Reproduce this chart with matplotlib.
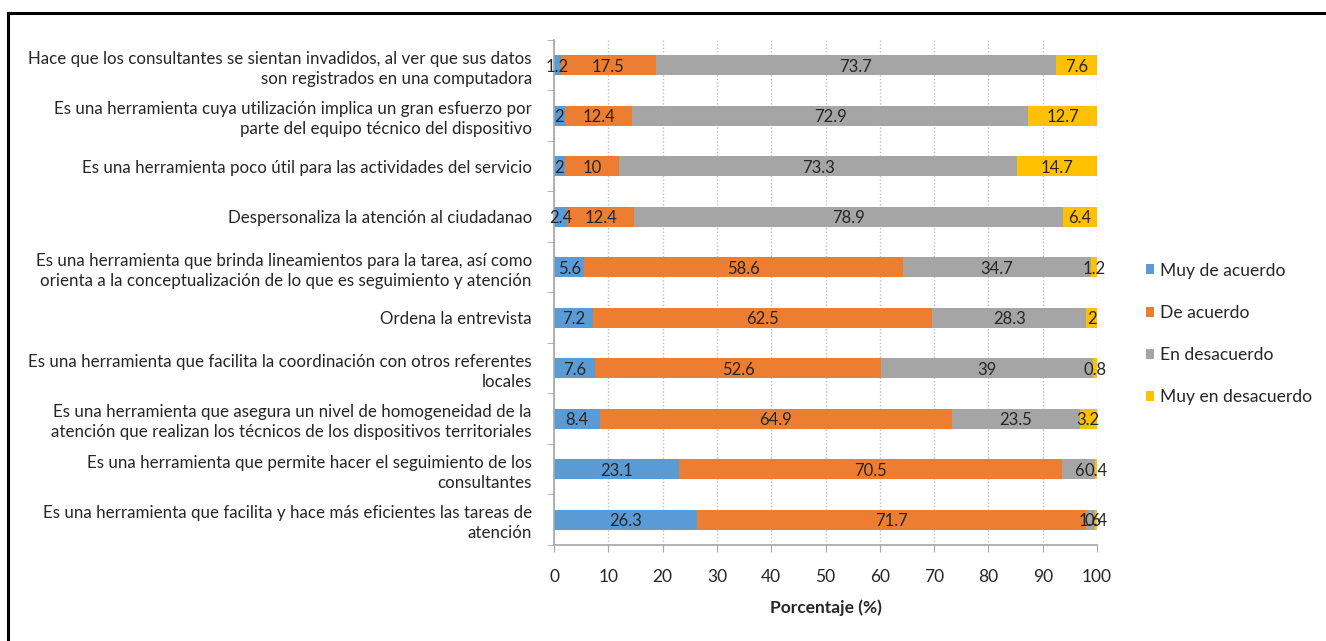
import matplotlib
matplotlib.use("Agg")
import matplotlib.pyplot as plt
from matplotlib.patches import Patch
from matplotlib.lines import Line2D
import numpy as np

plt.rcParams['font.family'] = ['Lato', 'DejaVu Sans']

categories = [
    "Hace que los consultantes se sientan invadidos, al ver que sus datos\nson registrados en una computadora",
    "Es una herramienta cuya utilización implica un gran esfuerzo por\nparte del equipo técnico del dispositivo",
    "Es una herramienta poco útil para las actividades del servicio",
    "Despersonaliza la atención al ciudadanao",
    "Es una herramienta que brinda lineamientos para la tarea, así como\norienta a la conceptualización de lo que es seguimiento y atención",
    "Ordena la entrevista",
    "Es una herramienta que facilita la coordinación con otros referentes\nlocales",
    "Es una herramienta que asegura un nivel de homogeneidad de la\natención que realizan los técnicos de los dispositivos territoriales",
    "Es una herramienta que permite hacer el seguimiento de los\nconsultantes",
    "Es una herramienta que facilita y hace más eficientes las tareas de\natención",
]

series_names = ["Muy de acuerdo", "De acuerdo", "En desacuerdo", "Muy en desacuerdo"]
muy_de_acuerdo = [1.2, 2, 2, 2.4, 5.6, 7.2, 7.6, 8.4, 23.1, 26.3]
de_acuerdo = [17.5, 12.4, 10, 12.4, 58.6, 62.5, 52.6, 64.9, 70.5, 71.7]
en_desacuerdo = [73.7, 72.9, 73.3, 78.9, 34.7, 28.3, 39, 23.5, 6, 1.6]
muy_en_desacuerdo = [7.6, 12.7, 14.7, 6.4, 1.2, 2, 0.8, 3.2, 0.4, 0.4]

colors = ["#5B9BD5", "#ED7D31", "#A5A5A5", "#FFC000"]
text_color = "#262626"

fig = plt.figure(figsize=(13.26, 6.41), dpi=100)
ax = fig.add_axes([0.4178, 0.1498, 0.4095, 0.7878])

y = np.arange(len(categories))
left = np.zeros(len(categories))
for name, vals, col in zip(series_names,
                           [muy_de_acuerdo, de_acuerdo, en_desacuerdo, muy_en_desacuerdo],
                           colors):
    vals = np.array(vals, dtype=float)
    ax.barh(y, vals, left=left, height=0.4, color=col, label=name, zorder=2)
    for yi, l, v in zip(y, left, vals):
        ax.text(l + v / 2, yi + 0.03, f"{v:g}", ha="center", va="center",
                fontsize=12, color=text_color, zorder=3)
    left += vals

ax.set_xlim(0, 100)
ax.set_ylim(len(categories) - 0.5, -0.5)
ax.set_xticks(np.arange(0, 101, 10))
ax.set_yticks(y)
ax.set_yticklabels(categories, fontsize=12.2, color=text_color, ha="right",
                   multialignment="right", linespacing=1.32)
ax.set_yticks(np.arange(-0.5, len(categories), 1), minor=True)
ax.tick_params(axis="y", which="major", length=0, pad=16)
ax.tick_params(axis="y", which="minor", length=5, color="#A6A6A6", direction="out")
ax.tick_params(axis="x", which="major", length=5, color="#A6A6A6", direction="out",
               labelsize=12.5, labelcolor=text_color, pad=12)

ax.grid(axis="x", linestyle=(0, (1, 1.5)), color="#BFBFBF", linewidth=1, zorder=0)
ax.set_axisbelow(True)

for side in ["top", "right"]:
    ax.spines[side].set_visible(False)
for side in ["left", "bottom"]:
    ax.spines[side].set_color("#A6A6A6")
    ax.spines[side].set_linewidth(1.2)

ax.set_xlabel("Porcentaje (%)", fontsize=12.5, fontweight="bold", color=text_color,
              labelpad=11)

handles = [Patch(facecolor=c, edgecolor="none") for c in colors]
fig.legend(handles, series_names, loc="center left", bbox_to_anchor=(0.852, 0.479),
           frameon=False, fontsize=12.6, handlelength=0.5, handleheight=0.5,
           handletextpad=0.3, labelspacing=1.5, labelcolor=text_color)

# frame lines along the top and left edges
fig.add_artist(Line2D([8 / 1326, 1.0], [1 - 13 / 641, 1 - 13 / 641],
                      transform=fig.transFigure, color="black", linewidth=2.2))
fig.add_artist(Line2D([8 / 1326, 8 / 1326], [0, 1 - 13 / 641],
                      transform=fig.transFigure, color="black", linewidth=2.2))

fig.savefig("out.png", dpi=100)
